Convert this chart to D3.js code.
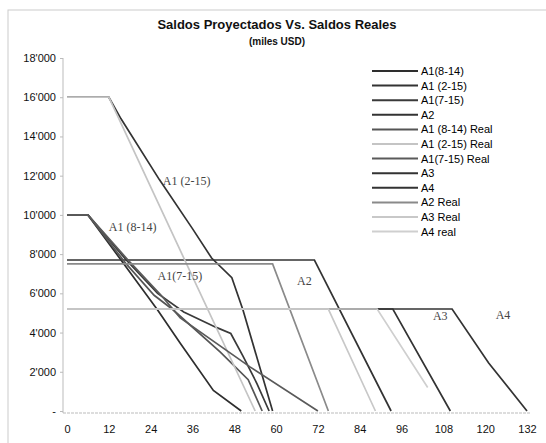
<!DOCTYPE html>
<html>
<head>
<meta charset="utf-8">
<script src="https://cdn.jsdelivr.net/npm/d3@7"></script>
<style>
  body { margin: 0; background: #fff; }
  svg { font-family: Arial, "Liberation Sans", sans-serif; }
  .axis path, .axis line { stroke: #bbb; }
  .axis text { fill: #111; font-size: 11px; }
</style>
</head>
<body>
<svg id="chart" width="546" height="443"></svg>
<script>
// month, saldo (miles USD)
let a1_814      = [[0,10000],[6,10000],[26,5150],[32.5,3450],[42,1050],[50,0]]
let a1_215      = [[0,16000],[12,16000],[15.5,14900],[26.5,11800],[36,9300],[41.5,7800],[47.3,6800],[50.5,5150],[59,0]]
let a1_715      = [[0,10000],[6,10000],[17,7700],[26,6000],[33.5,5050],[43,4250],[47,3950],[50.5,2800],[54.5,1400],[58,0]]
let a2          = [[0,7700],[71,7700],[93,0]]
let a1_814_real = [[0,10000],[6,10000],[17,7500],[25,5900],[30.5,5150],[44,3000],[52,1600],[56,0]]
let a1_215_real = [[0,16000],[12,16000],[33,8000],[54,0]]
let a1_715_real = [[0,10000],[6,10000],[18,7600],[27,5900],[32.5,4750],[52.5,2250],[72,0]]
let a3          = [[0,5200],[93.5,5200],[110,0]]
let a4          = [[0,5200],[110.5,5200],[121,2450],[132,0]]
let a2_real     = [[0,7500],[59,7500],[75,0]]
let a3_real     = [[0,5200],[75,5200],[88.5,0]]
let a4_real     = [[0,5200],[89,5200],[103.5,1200]]

let series_names = ["A1(8-14)", "A1 (2-15)", "A1(7-15)", "A2", "A1 (8-14) Real", "A1 (2-15) Real",
                    "A1(7-15) Real", "A3", "A4", "A2 Real", "A3 Real", "A4 real"]
let series_data = [a1_814, a1_215, a1_715, a2, a1_814_real, a1_215_real,
                   a1_715_real, a3, a4, a2_real, a3_real, a4_real]
let series_color = ["#2e2e2e", "#333", "#3a3a3a", "#333", "#555", "#c4c4c4",
                    "#5a5a5a", "#333", "#333", "#8a8a8a", "#c8c8c8", "#cfcfcf"]

let x_ticks = [0, 12, 24, 36, 48, 60, 72, 84, 96, 108, 120, 132]
let y_ticks = [0, 2000, 4000, 6000, 8000, 10000, 12000, 14000, 16000, 18000]

let in_chart_labels = [
  {text: "A1 (2-15)", m: 27.5, v: 11500},
  {text: "A1 (8-14)", m: 12, v: 9200},
  {text: "A1(7-15)", m: 26, v: 6700},
  {text: "A2", m: 66, v: 6400},
  {text: "A3", m: 105, v: 4650},
  {text: "A4", m: 123, v: 4700}
]

let svg = d3.select("#chart")
let x = d3.scaleLinear().domain([0, 132]).range([67, 527])
let y = d3.scaleLinear().domain([0, 18000]).range([411, 58])

// outer frame of the scanned chart
svg.append("rect")
  .attr("x", 8).attr("y", 10).attr("width", 545).attr("height", 440)
  .attr("fill", "none").attr("stroke", "#ccc")

svg.append("text")
  .attr("x", 277).attr("y", 29).attr("text-anchor", "middle")
  .attr("font-weight", "bold").attr("font-size", 13).attr("fill", "#111")
  .text("Saldos Proyectados Vs. Saldos Reales")
svg.append("text")
  .attr("x", 277).attr("y", 45).attr("text-anchor", "middle")
  .attr("font-weight", "bold").attr("font-size", 10).attr("fill", "#111")
  .text("(miles USD)")

let fmt = d => d === 0 ? "-" : d3.format(",")(d).replace(",", "'")

svg.append("g")
  .attr("class", "axis")
  .attr("transform", "translate(63,0)")
  .call(d3.axisLeft(y).tickValues(y_ticks).tickFormat(fmt).tickSize(3).tickPadding(4))
  .call(g => g.select(".domain").attr("d", `M0,${y(18000)}V${y(0) + 2}`))

svg.append("g")
  .attr("class", "axis")
  .attr("transform", `translate(0,${y(0) + 2})`)
  .call(d3.axisBottom(x).tickValues(x_ticks).tickSize(0).tickPadding(12))
  .call(g => g.select(".domain").attr("d", `M63,0H530`)
    .attr("stroke", "#aaa").attr("stroke-dasharray", "3,1"))

let line = d3.line().x(d => x(d[0])).y(d => y(d[1]))

svg.append("g").selectAll("path")
  .data(series_data).enter()
  .append("path")
  .attr("d", line)
  .attr("fill", "none")
  .attr("stroke", (d, i) => series_color[i])
  .attr("stroke-width", 1.7)

svg.append("g").selectAll("text")
  .data(in_chart_labels).enter()
  .append("text")
  .attr("x", d => x(d.m)).attr("y", d => y(d.v))
  .attr("font-family", "'Liberation Serif', serif")
  .attr("font-size", 12).attr("fill", "#444")
  .text(d => d.text)

// legend
let legend = svg.append("g").attr("transform", "translate(372,71)")
let rows = legend.selectAll("g")
  .data(series_names).enter()
  .append("g")
  .attr("transform", (d, i) => `translate(0,${i * 14.6})`)
rows.append("line")
  .attr("x1", 0).attr("x2", 46)
  .attr("stroke", (d, i) => series_color[i])
  .attr("stroke-width", 2)
rows.append("text")
  .attr("x", 49).attr("y", 4)
  .attr("font-size", 11).attr("fill", "#000")
  .text(d => d)
</script>
</body>
</html>
